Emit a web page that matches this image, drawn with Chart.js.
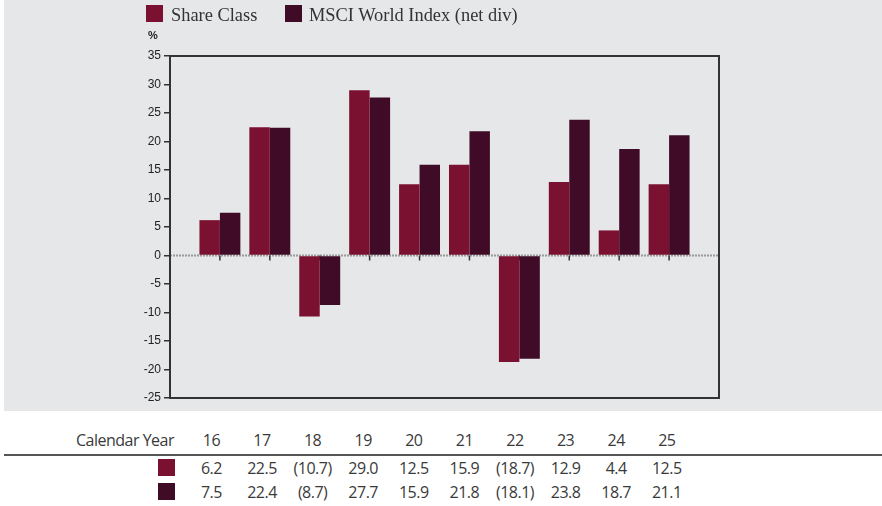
<!DOCTYPE html>
<html>
<head>
<meta charset="utf-8">
<script src="https://cdn.jsdelivr.net/npm/chart.js"></script>
<style>
  html, body { margin: 0; padding: 0; background: #fff; }
  body { width: 882px; height: 506px; position: relative; overflow: hidden; }
  #panel { position: absolute; left: 4px; top: 0; width: 878px; height: 411px; background: #e6e7e8; }
  #chart { position: absolute; left: 0; top: 0; }
  .leg-box { position: absolute; width: 17px; height: 17px; }
  .leg-txt { position: absolute; font-family: "Liberation Serif", "Times New Roman", serif; font-size: 18.4px; color: #333; line-height: 20px; white-space: nowrap; }
  #pct { position: absolute; left: 144px; top: 29px; font: bold 11px "Liberation Sans", Arial, sans-serif; color: #222; }
  .tbl { position: absolute; font-family: "Open Sans", "Noto Sans", sans-serif; font-size: 16px; letter-spacing: -0.5px; color: #3a3a3a; line-height: 20px; white-space: nowrap; }
  #rule { position: absolute; left: 4px; top: 454px; width: 878px; height: 0; border-top: 2px solid #555; }
  .sw { position: absolute; width: 17px; height: 17px; }
</style>
</head>
<body>
<div id="panel">
  <canvas id="chart" width="878" height="411"></canvas>
  <div class="leg-box" style="left:142px; top:5px; background:#7b1131"></div>
  <div class="leg-txt" style="left:167px; top:5px">Share Class</div>
  <div class="leg-box" style="left:281px; top:5px; background:#400b27"></div>
  <div class="leg-txt" style="left:305px; top:5px">MSCI World Index (net div)</div>
  <div id="pct">%</div>
</div>
<div id="rule"></div>
<div id="table"></div>
<script>
// valores
const years = ['16', '17', '18', '19', '20', '21', '22', '23', '24', '25'];
const shareClass = [6.2, 22.5, -10.7, 29.0, 12.5, 15.9, -18.7, 12.9, 4.4, 12.5];
const msciWorld = [7.5, 22.4, -8.7, 27.7, 15.9, 21.8, -18.1, 23.8, 18.7, 21.1];
const seriesNames = ['Share Class', 'MSCI World Index (net div)'];
const seriesColors = ['#7b1131', '#400b27'];
const yMin = -25, yMax = 35, yStep = 5;

// un hueco vacío a cada lado, como en el original
const labels = [''].concat(years, ['']);
const pad = arr => [null].concat(arr, [null]);

const frameAndZero = {
  id: 'frameAndZero',
  beforeDatasetsDraw(chart) {
    const { ctx, chartArea: a, scales } = chart;
    const y0 = scales.y.getPixelForValue(0);
    ctx.save();
    // línea del cero punteada
    ctx.strokeStyle = '#9a9a9a';
    ctx.lineWidth = 2;
    ctx.setLineDash([2, 1]);
    ctx.beginPath();
    ctx.moveTo(a.left, y0);
    ctx.lineTo(a.right, y0);
    ctx.stroke();
    ctx.setLineDash([]);
    // marcas de categoría sobre el cero
    ctx.strokeStyle = '#333';
    ctx.lineWidth = 1.5;
    for (let i = 1; i <= years.length; i++) {
      const x = scales.x.getPixelForValue(i);
      ctx.beginPath();
      ctx.moveTo(x, y0);
      ctx.lineTo(x, y0 + 5);
      ctx.stroke();
    }
    ctx.restore();
  },
  afterDraw(chart) {
    const { ctx, chartArea: a } = chart;
    ctx.save();
    ctx.strokeStyle = '#333';
    ctx.lineWidth = 2;
    ctx.strokeRect(a.left, a.top, a.right - a.left, a.bottom - a.top);
    ctx.restore();
  }
};

new Chart(document.getElementById('chart'), {
  type: 'bar',
  data: {
    labels,
    datasets: [
      { label: seriesNames[0], data: pad(shareClass), backgroundColor: seriesColors[0] },
      { label: seriesNames[1], data: pad(msciWorld), backgroundColor: seriesColors[1] }
    ]
  },
  options: {
    responsive: false,
    animation: false,
    layout: { padding: { left: 122, right: 163, top: 56, bottom: 13 } },
    datasets: { bar: { categoryPercentage: 0.82, barPercentage: 1 } },
    plugins: { legend: { display: false }, tooltip: { enabled: false } },
    scales: {
      x: {
        offset: false,
        grid: { display: false },
        border: { display: false },
        ticks: { display: false },
        afterFit: s => { s.height = 0; }
      },
      y: {
        min: yMin,
        max: yMax,
        ticks: {
          stepSize: yStep,
          padding: 3,
          color: '#222',
          font: { family: '"Liberation Sans", Arial, sans-serif', size: 12 }
        },
        grid: { drawOnChartArea: false, drawTicks: true, tickLength: 6, color: '#333', lineWidth: 1.5 },
        border: { display: false },
        afterFit: s => { s.width = 44; }
      }
    }
  },
  plugins: [frameAndZero]
});

// tabla de valores bajo el gráfico
function fmt(v) {
  const s = Math.abs(v).toFixed(1);
  return v < 0 ? `(${s})` : s;
}

const table = document.getElementById('table');
function addCell(text, left, top, width, align) {
  const d = document.createElement('div');
  d.className = 'tbl';
  d.textContent = text;
  d.style.left = left + 'px';
  d.style.top = top + 'px';
  if (width) { d.style.width = width + 'px'; d.style.textAlign = align; }
  table.appendChild(d);
}

addCell('Calendar Year', 0, 430, 174, 'right');
const colW = 50.6, colStart = 186.1;
years.forEach((y, i) => {
  const left = colStart + i * colW;
  addCell(y, left, 430, colW, 'center');
  addCell(fmt(shareClass[i]), left, 458, colW, 'center');
  addCell(fmt(msciWorld[i]), left, 482, colW, 'center');
});

[459, 483].forEach((top, k) => {
  const sw = document.createElement('div');
  sw.className = 'sw';
  sw.style.left = '158px';
  sw.style.top = top + 'px';
  sw.style.background = seriesColors[k];
  table.appendChild(sw);
});
</script>
</body>
</html>
